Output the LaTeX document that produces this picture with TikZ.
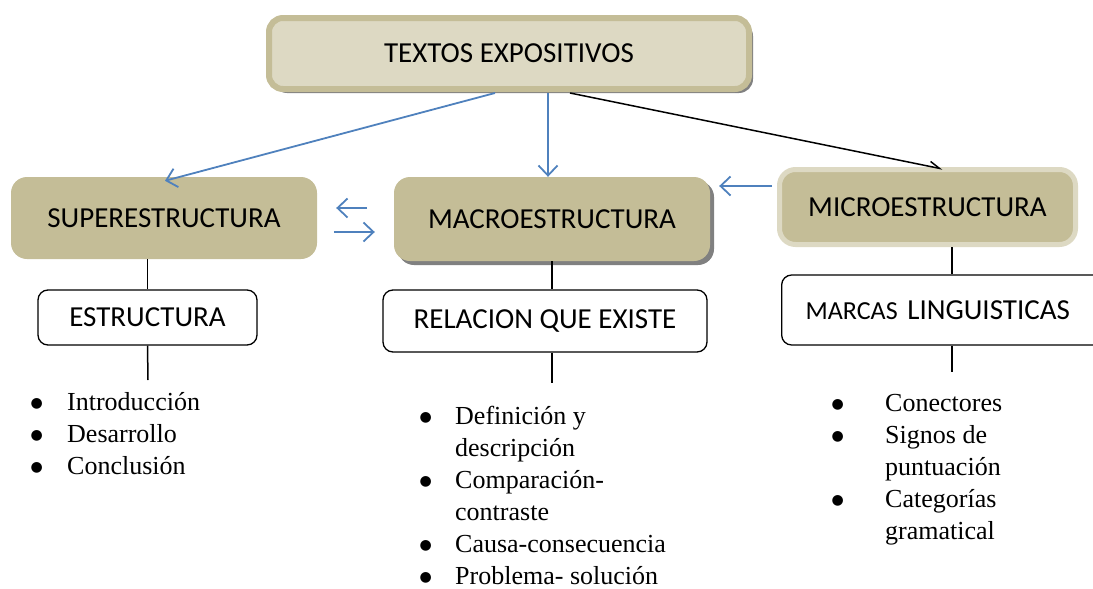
\documentclass[tikz,border=0pt]{standalone}
\usepackage{fontspec}
\setmainfont{Liberation Serif}
\newfontfamily\boxfont{Carlito}
\newfontfamily\dotfont{DejaVu Sans}
\usetikzlibrary{arrows.meta,calc,shadows}

\definecolor{tan}{HTML}{C4BD97}
\definecolor{lighttan}{HTML}{DDD9C3}
\definecolor{linkblue}{HTML}{4F81BD}

\newcommand{\bul}[1]{\makebox[#1pt][l]{\raisebox{3pt}{\dotfont\fontsize{14}{14}\selectfont ●}}}

\begin{document}
\begin{tikzpicture}[x=1pt, y=-1pt,
    every node/.style={font=\boxfont\fontsize{29}{34}\selectfont},
    boxshadow/.style={drop shadow={shadow xshift=4pt, shadow yshift=-4pt, fill=black!50, opacity=1}},
    headbox/.style={rectangle, rounded corners=14pt, fill=lighttan, draw=tan, line width=6pt, boxshadow},
    mainbox/.style={rectangle, rounded corners=16pt, fill=tan},
    subbox/.style={rectangle, rounded corners=10pt, fill=white, draw=black, line width=1.3pt},
    bullets/.style={font=\rmfamily\fontsize{26}{32}\selectfont, align=left, inner sep=0pt},
    link/.style={linkblue, line width=1.8pt, -{Straight Barb[length=10pt, width=19pt]}},
    stem/.style={black, line width=1.5pt}
  ]
    \useasboundingbox (0,0) rectangle (1093,589);

    % Boxes
    \node[headbox, minimum width=480, minimum height=71] (tex) at (509,53.5) {TEXTOS EXPOSITIVOS};
    \node[mainbox, minimum width=306, minimum height=82] (sup) at (164,218) {SUPERESTRUCTURA};
    \node[mainbox, boxshadow, minimum width=316, minimum height=84] (mac) at (552,219) {MACROESTRUCTURA};
    \node[mainbox, draw=lighttan, line width=5pt, minimum width=296, minimum height=75] (mic) at (927.5,207) {MICROESTRUCTURA};

    \node[subbox, minimum width=219, minimum height=55] (est) at (147.5,317.5) {ESTRUCTURA};
    \node[subbox, minimum width=324, minimum height=62] (rel) at (545,321) {RELACION QUE EXISTE};
    \node[subbox, anchor=west, minimum height=70, text width=290, inner xsep=24pt] (mar) at (781,310) {{\fontsize{26}{30}\selectfont MARCAS }LINGUISTICAS};

    % Lists
    \node[bullets, anchor=north west] (estList) at (30.5,392) {\bul{36.5}Introducción\\ \bul{36.5}Desarrollo\\ \bul{36.5}Conclusión};
    \node[bullets, anchor=north west] (relList) at (419.5,406) {\bul{35.5}Definición y\\ \hspace*{35.5pt}descripción\\ \bul{35.5}Comparación-\\ \hspace*{35.5pt}contraste\\ \bul{35.5}Causa-consecuencia\\ \bul{35.5}Problema- solución};
    \node[bullets, anchor=north west] (marList) at (831.5,394) {\bul{53.5}Conectores\\ \bul{53.5}Signos de\\ \hspace*{53.5pt}puntuación\\ \bul{53.5}Categorías\\ \hspace*{53.5pt}gramatical};

    % Stems
    \coordinate (estEnd) at (148,380);
    \coordinate (relEnd) at (552,383);
    \coordinate (micStem) at (952,247);
    \coordinate (marEnd) at (952,372);
    \draw[stem] (est.north |- sup.south) -- (est.north);
    \draw[stem] (est.south) -- (estEnd);
    \draw[stem] (mac.south) -- (mac.south |- rel.north);
    \draw[stem] (relEnd |- rel.south) -- (relEnd);
    \draw[stem] (micStem) -- (micStem |- mar.north);
    \draw[stem] (marEnd |- mar.south) -- (marEnd);

    % Arrows
    \draw[link] ($(tex.south)+(-14,1)$) -- ($(sup.north)+(1,4)$);
    \draw[link] ($(tex.south)+(39,1)$) -- ($(mac.north)+(-4,0)$);
    \draw[link] ($(mic.west)+(-5,-21)$) -- ($(mac.east)+(9,-33)$);
    \draw[link] ($(sup.east)+(50,-10)$) -- ($(sup.east)+(19,-10)$);
    \draw[link] ($(mac.west)+(-60,13)$) -- ($(mac.west)+(-19,13)$);
    \draw[stem, -{Straight Barb[left, length=10pt, width=10pt]}] ($(tex.south)+(61,1)$) -- ($(mic.north)+(15,2)$);
\end{tikzpicture}
\end{document}
